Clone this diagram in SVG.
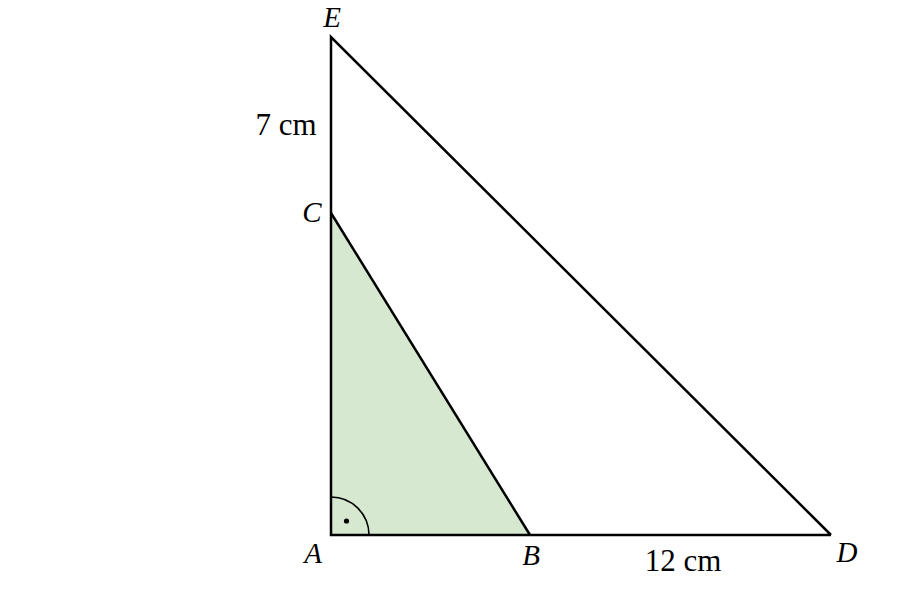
<svg xmlns="http://www.w3.org/2000/svg" width="900" height="610" viewBox="0 0 900 610">
<style>
.ln{fill:none;stroke:#000;stroke-width:2.5;stroke-linejoin:miter}
.lbl{font-family:"Liberation Serif","DejaVu Serif",serif;font-size:29px;font-style:italic;fill:#000}
.dim{font-family:"Liberation Serif","DejaVu Serif",serif;font-size:31px;fill:#000}
</style>
<rect width="900" height="610" fill="#fff"/>
<g id="triangle-ABC">
<polygon points="331,535 530,535 331,213" fill="#d6e8cf" stroke="none"/>
<path class="ln" d="M331,213 L530,535"/>
<path d="M331,497 A38,38 0 0 1 369,535" fill="none" stroke="#000" stroke-width="1.6"/>
<circle cx="346.5" cy="521" r="2.6" fill="#000"/>
</g>
<g id="triangle-ADE">
<path class="ln" d="M831,535 L331,535 L331,37 L831,535"/>
</g>
<g id="labels">
<text class="lbl" x="332" y="27" text-anchor="middle">E</text>
<text class="lbl" x="312" y="222" text-anchor="middle">C</text>
<text class="lbl" x="313" y="563" text-anchor="middle">A</text>
<text class="lbl" x="531" y="565" text-anchor="middle">B</text>
<text class="lbl" x="847" y="562" text-anchor="middle">D</text>
<text class="dim" x="286" y="135" text-anchor="middle">7 cm</text>
<text class="dim" x="683" y="571" text-anchor="middle">12 cm</text>
</g>
</svg>
